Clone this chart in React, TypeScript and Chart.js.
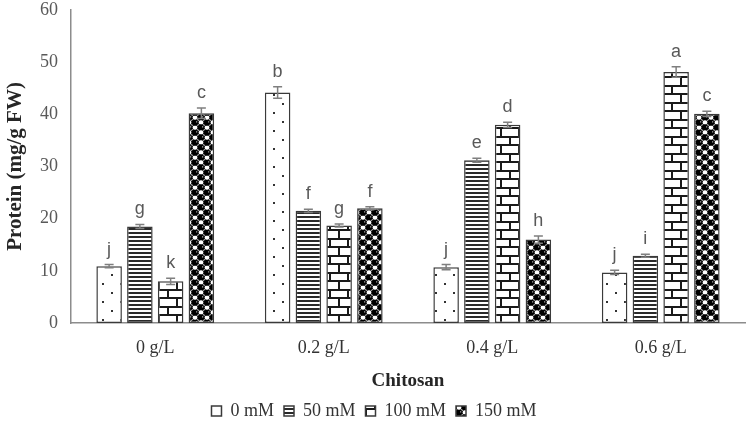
import React, { useEffect, useRef } from "react";
import { Chart, registerables } from "chart.js";
Chart.register(...registerables);

const categories = ["0 g/L", "0.2 g/L", "0.4 g/L", "0.6 g/L"];
const seriesLabels = ["0 mM", "50 mM", "100 mM", "150 mM"];
const values0 = [10.9, 44.2, 10.7, 9.7];
const values50 = [18.5, 21.5, 31.2, 12.9];
const values100 = [8.0, 18.7, 38.0, 48.1];
const values150 = [40.2, 22.0, 16.0, 40.1];
const errors0 = [0.3, 1.1, 0.5, 0.4];
const errors50 = [0.4, 0.3, 0.4, 0.3];
const errors100 = [0.6, 0.3, 0.5, 1.0];
const errors150 = [1.0, 0.3, 0.7, 0.5];
const letters0 = ["j", "b", "j", "j"];
const letters50 = ["g", "f", "e", "i"];
const letters100 = ["k", "g", "d", "a"];
const letters150 = ["c", "f", "h", "c"];
const yMin = 0;
const yMax = 60;
const yStep = 10;

const errorSets = [errors0, errors50, errors100, errors150];
const letterSets = [letters0, letters50, letters100, letters150];
const valueSets = [values0, values50, values100, values150];

function tile(w: number, h: number, draw: (c: CanvasRenderingContext2D) => void) {
  const cv = document.createElement("canvas");
  cv.width = w;
  cv.height = h;
  const c = cv.getContext("2d")!;
  draw(c);
  return c.createPattern(cv, "repeat")!;
}

function makePatterns(): CanvasPattern[] {
  const dots = tile(18, 18, (c) => {
    c.fillStyle = "#ffffff";
    c.fillRect(0, 0, 18, 18);
    c.fillStyle = "#333333";
    c.fillRect(3, 4, 2, 2);
    c.fillRect(12, 13, 2, 2);
  });
  const stripes = tile(4, 4, (c) => {
    c.fillStyle = "#ffffff";
    c.fillRect(0, 0, 4, 4);
    c.fillStyle = "#2a2a2a";
    c.fillRect(0, 0, 4, 2);
  });
  const brick = tile(18, 17, (c) => {
    c.fillStyle = "#ffffff";
    c.fillRect(0, 0, 18, 17);
    c.fillStyle = "#1a1a1a";
    c.fillRect(0, 0, 18, 2);
    c.fillRect(0, 8, 18, 2);
    c.fillRect(5, 0, 2, 9);
    c.fillRect(14, 8, 2, 9);
  });
  const sphere = tile(12, 10, (c) => {
    c.fillStyle = "#ffffff";
    c.fillRect(0, 0, 12, 10);
    c.strokeStyle = "#222222";
    c.lineWidth = 1;
    for (const [x, y] of [[9, 2.5], [3, 7.5]]) {
      c.beginPath();
      c.arc(x, y, 2.8, 0, Math.PI * 2);
      c.stroke();
    }
    c.fillStyle = "#000000";
    for (const [x, y] of [[3, 2.5], [9, 7.5], [-3, 7.5], [15, 2.5]]) {
      c.beginPath();
      c.arc(x, y, 3.3, 0, Math.PI * 2);
      c.fill();
    }
    c.fillStyle = "#ffffff";
    for (const [x, y] of [[4.2, 1.4], [10.2, 6.4]]) {
      c.fillRect(x, y, 1, 1);
    }
  });
  return [dots, stripes, brick, sphere];
}

const annotPlugin = {
  id: "annot",
  afterDatasetsDraw(chart: any) {
    const ctx = chart.ctx as CanvasRenderingContext2D;
    const yScale = chart.scales.y;
    chart.data.datasets.forEach((ds: any, i: number) => {
      const meta = chart.getDatasetMeta(i);
      meta.data.forEach((bar: any, j: number) => {
        const v = ds.data[j] as number;
        const e = errorSets[i][j];
        const x = bar.x;
        const yt = yScale.getPixelForValue(v + e);
        const yb = yScale.getPixelForValue(v - e);
        ctx.save();
        ctx.strokeStyle = "#7f7f7f";
        ctx.lineWidth = 1.5;
        ctx.beginPath();
        ctx.moveTo(x, yt);
        ctx.lineTo(x, yb);
        ctx.moveTo(x - 4.5, yt);
        ctx.lineTo(x + 4.5, yt);
        ctx.moveTo(x - 4.5, yb);
        ctx.lineTo(x + 4.5, yb);
        ctx.stroke();
        ctx.fillStyle = "#595959";
        ctx.font = '18px "Liberation Sans"';
        ctx.textAlign = "center";
        ctx.textBaseline = "alphabetic";
        ctx.fillText(letterSets[i][j], x, yt - 10);
        ctx.restore();
      });
    });
  },
};

export default function App() {
  const ref = useRef<HTMLCanvasElement | null>(null);
  useEffect(() => {
    document.body.style.margin = "0";
    const patterns = makePatterns();
    const chart = new Chart(ref.current!, {
      type: "bar",
      data: {
        labels: categories,
        datasets: seriesLabels.map((label, i) => ({
          label,
          data: valueSets[i],
          backgroundColor: patterns[i],
          borderColor: "#3a3a3a",
          borderWidth: 1.5,
          borderSkipped: false,
          categoryPercentage: 0.73,
          barPercentage: 0.83,
        })),
      },
      options: {
        responsive: false,
        animation: false,
        devicePixelRatio: 1,
        layout: { padding: { left: 3, right: 5, top: 0, bottom: -3 } },
        plugins: {
          legend: {
            position: "bottom",
            labels: {
              boxWidth: 10,
              boxHeight: 10,
              padding: 10,
              color: "#333333",
              font: { family: "Liberation Serif", size: 18 },
            },
          },
          tooltip: { enabled: false },
        },
        scales: {
          x: {
            grid: { display: false, drawTicks: false },
            border: { color: "#8c8c8c", width: 1.5 },
            ticks: {
              color: "#333333",
              padding: 14,
              font: { family: "Liberation Serif", size: 18 },
            },
            title: {
              display: true,
              text: "Chitosan",
              color: "#262626",
              font: { family: "Liberation Serif", size: 19, weight: "bold" },
              padding: { top: 11, bottom: 0 },
            },
            afterFit: (s: any) => {
              s.height = 69;
            },
          },
          y: {
            min: yMin,
            max: yMax,
            grid: { display: false, drawTicks: false },
            border: { color: "#8c8c8c", width: 1.5 },
            ticks: {
              stepSize: yStep,
              color: "#595959",
              padding: 13,
              font: { family: "Liberation Serif", size: 18 },
            },
            title: {
              display: true,
              text: "Protein (mg/g FW)",
              color: "#262626",
              font: { family: "Liberation Serif", size: 21, weight: "bold" },
              padding: { top: 0, bottom: 4 },
            },
            afterFit: (s: any) => {
              s.width = 68;
              s.paddingTop = 10;
              s.paddingBottom = 0;
            },
          },
        },
      },
      plugins: [annotPlugin],
    });
    return () => chart.destroy();
  }, []);
  return <canvas ref={ref} width={750} height={427} />;
}
